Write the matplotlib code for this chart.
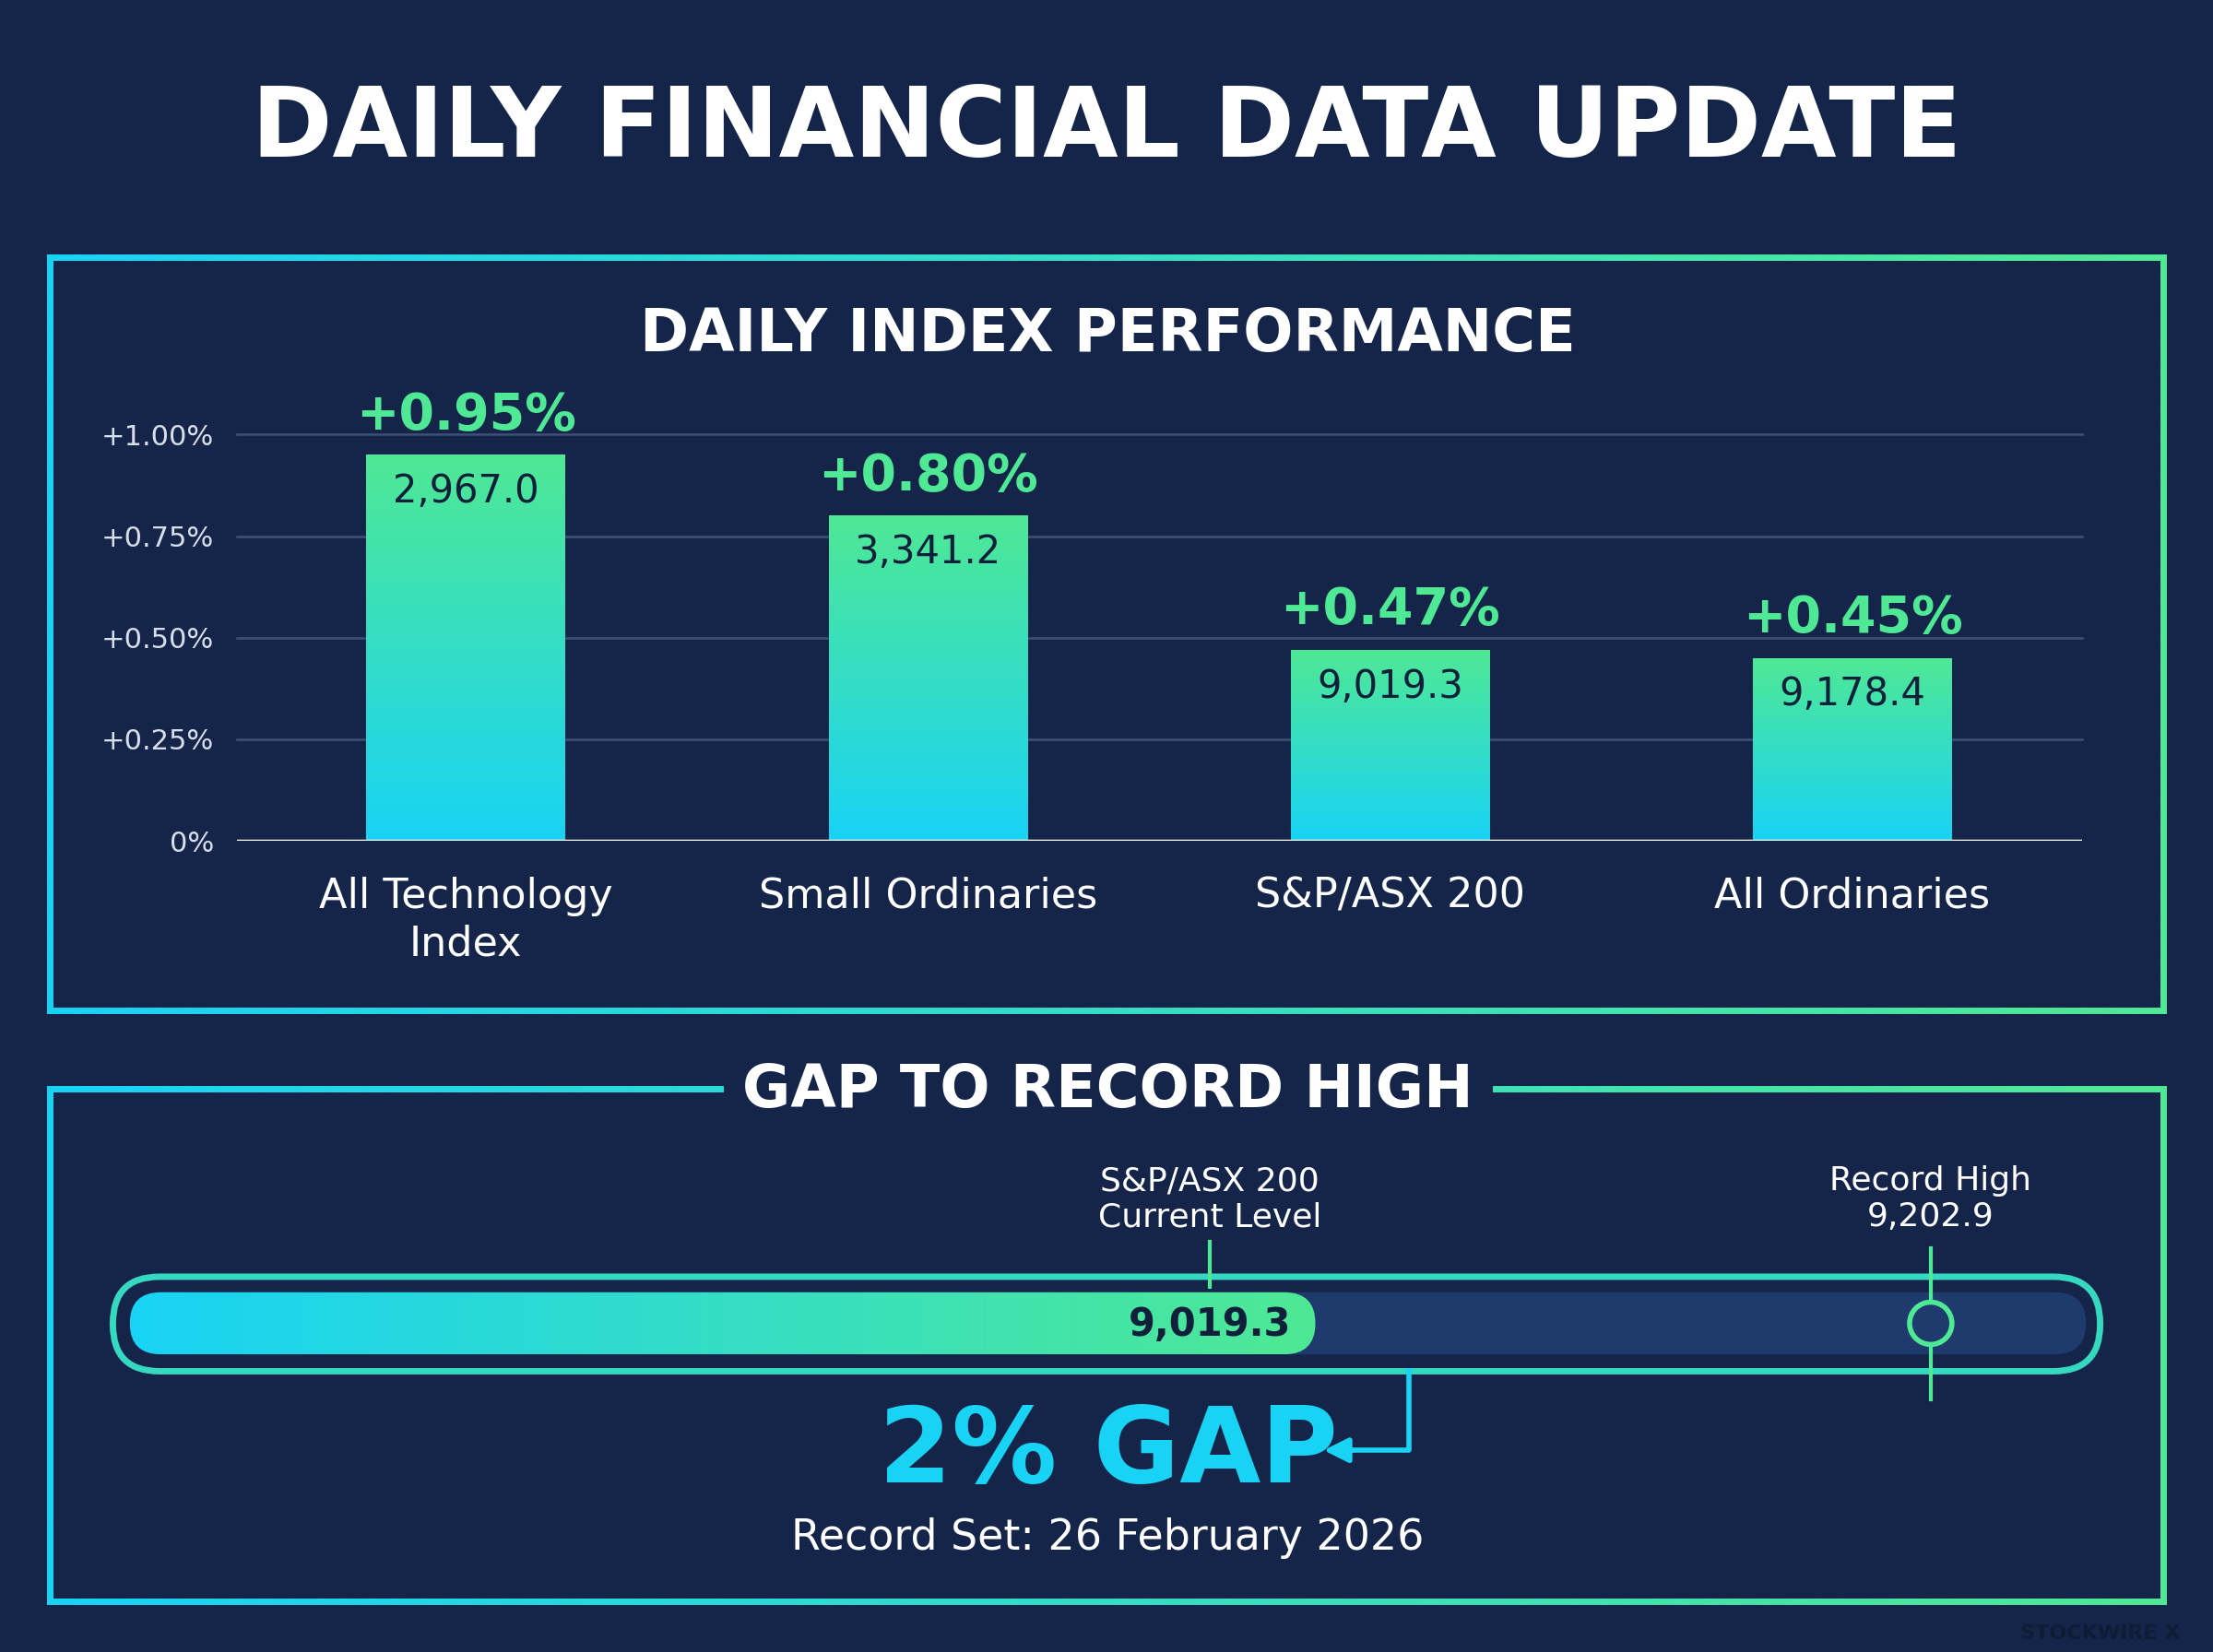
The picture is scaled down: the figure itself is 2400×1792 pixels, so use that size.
import numpy as np
import matplotlib
matplotlib.use("Agg")
import matplotlib.pyplot as plt
from matplotlib.patches import FancyBboxPatch, Rectangle
from matplotlib.collections import LineCollection
from matplotlib.colors import LinearSegmentedColormap

categories = ["All Technology\nIndex", "Small Ordinaries", "S&P/ASX 200", "All Ordinaries"]
pct_change = [0.95, 0.80, 0.47, 0.45]
levels = ["2,967.0", "3,341.2", "9,019.3", "9,178.4"]
yticks = [0, 0.25, 0.50, 0.75, 1.00]
ytick_labels = ["0%", "+0.25%", "+0.50%", "+0.75%", "+1.00%"]
current_level = 9019.3
record_high = 9202.9
gap_label = "2% GAP"
record_date = "Record Set: 26 February 2026"

BG = "#15254a"
CYAN = "#19d3f5"
GREEN = "#4fe895"
cmap_h = LinearSegmentedColormap.from_list("h", [CYAN, GREEN])
cmap_v = LinearSegmentedColormap.from_list("v", [CYAN, GREEN])

W, H = 1568, 1171
fig = plt.figure(figsize=(24, 17.92), dpi=100, facecolor=BG)
ov = fig.add_axes([0, 0, 1, 1])
ov.set_xlim(0, W); ov.set_ylim(H, 0); ov.axis("off")
ov.set_facecolor(BG)

def grad_line(xs, ys, lw=5):
    pts = []
    for i in range(len(xs) - 1):
        n = 80
        x = np.linspace(xs[i], xs[i + 1], n); y = np.linspace(ys[i], ys[i + 1], n)
        for j in range(n - 1):
            pts.append([(x[j], y[j]), (x[j + 1], y[j + 1])])
    pts = np.array(pts)
    c = cmap_h((pts[:, :, 0].mean(axis=1) - 35) / (1533 - 35))
    ov.add_collection(LineCollection(pts, colors=c, linewidths=lw, capstyle="projecting"))

ov.text(W / 2, 92, "DAILY FINANCIAL DATA UPDATE", color="white", fontsize=76,
        fontweight="bold", ha="center", va="center")
# panel 1 border
grad_line([35, 1533, 1533, 35, 35], [182, 182, 716, 716, 182])
ov.text(785, 237, "DAILY INDEX PERFORMANCE", color="white", fontsize=46,
        fontweight="bold", ha="center", va="center")
# panel 2 border with gap
grad_line([510, 35, 35, 1533, 1533, 1060], [772, 772, 1135, 1135, 772, 772])
ov.text(785, 773, "GAP TO RECORD HIGH", color="white", fontsize=46,
        fontweight="bold", ha="center", va="center")

# bar chart
ax = fig.add_axes([168 / W, 1 - 596 / H, 1307 / W, 288 / H])
ax.set_facecolor("none")
ax.set_xlim(-0.495, 3.496); ax.set_ylim(0, 1.0)
for s in ax.spines.values(): s.set_visible(False)
for t in yticks[1:]:
    ax.axhline(t, color="#3f5275", lw=1.8, zorder=0, clip_on=False)
ax.axhline(0, color="white", lw=2.5, zorder=3)
ax.set_yticks(yticks)
ax.set_yticklabels(ytick_labels, color="#d8deea", fontsize=22)
ax.tick_params(axis="y", length=0, pad=18)
ax.set_xticks(range(len(categories)))
ax.set_xticklabels(categories, color="white", fontsize=32, linespacing=1.25)
ax.tick_params(axis="x", length=0, pad=28)
grad = np.linspace(0, 1, 256).reshape(-1, 1)
bw = 0.43
for i, v in enumerate(pct_change):
    r = Rectangle((i - bw / 2, 0), bw, v, facecolor="none", edgecolor="none")
    ax.add_patch(r)
    im = ax.imshow(grad, cmap=cmap_v, origin="lower", aspect="auto",
                   extent=(i - bw / 2, i + bw / 2, 0, v), zorder=2)
    im.set_clip_path(r)
    ax.text(i, v + 0.035, f"+{v:.2f}%", color=GREEN, fontsize=40,
            fontweight="bold", ha="center", va="bottom", clip_on=False)
    ax.text(i, v - 0.09, levels[i], color="#10203a", fontsize=30,
            ha="center", va="center")
ax.set_xlim(-0.495, 3.496); ax.set_ylim(0, 1.0)

# progress bar scale: value -> pixel x
fill_left = 92
px_per_unit = (1368 - 932) / (record_high - current_level)
def vx(v):
    return 932 + (v - current_level) * px_per_unit

outer = FancyBboxPatch((80 + 33, 905), 1408 - 66, 67, boxstyle="round,pad=0,rounding_size=33.5",
                       facecolor="none", edgecolor=GREEN, lw=5, mutation_aspect=1)
ov.add_patch(FancyBboxPatch((80, 905), 1408, 67, boxstyle="round,pad=0,rounding_size=33",
                            facecolor="none", edgecolor="#35d9c0", lw=5))
track = FancyBboxPatch((92, 916), 1478 - 92, 44, boxstyle="round,pad=0,rounding_size=22",
                       facecolor="#1f3a6c", edgecolor="none")
ov.add_patch(track)
fx1 = vx(current_level)
fill = FancyBboxPatch((fill_left, 916), fx1 - fill_left, 44, boxstyle="round,pad=0,rounding_size=22",
                      facecolor="none", edgecolor="none")
ov.add_patch(fill)
im2 = ov.imshow(np.linspace(0, 1, 256).reshape(1, -1), cmap=cmap_h, aspect="auto",
                extent=(fill_left, fx1, 960, 916), zorder=3)
im2.set_clip_path(fill)
ov.set_xlim(0, W); ov.set_ylim(H, 0)
ov.text(857, 939, f"{current_level:,.1f}", color="#10203a", fontsize=30,
        fontweight="bold", ha="center", va="center", zorder=5)
ov.plot([857, 857], [880, 912], color=GREEN, lw=3)
ov.text(857, 850, "S&P/ASX 200\nCurrent Level", color="white", fontsize=26,
        ha="center", va="center", linespacing=1.2)
rx = vx(record_high)
ov.plot([rx, rx], [885, 992], color=GREEN, lw=3, zorder=4)
ov.add_patch(plt.Circle((rx, 938), 15, facecolor="#1f3a6c", edgecolor=GREEN, lw=4, zorder=5))
ov.text(rx, 850, f"Record High\n{record_high:,.1f}", color="white", fontsize=26,
        ha="center", va="center", linespacing=1.2)
# arrow
ov.plot([998, 998, 950], [972, 1028, 1028], color=CYAN, lw=4)
ov.annotate("", xy=(936, 1028), xytext=(960, 1028),
            arrowprops=dict(arrowstyle="-|>", color=CYAN, lw=4, mutation_scale=40))
ov.text(785, 1030, gap_label, color=CYAN, fontsize=82, fontweight="bold",
        ha="center", va="center")
ov.text(785, 1090, record_date, color="white", fontsize=33, ha="center", va="center")
ov.text(1545, 1158, "STOCKWIRE X", color="#0f1c36", fontsize=16, fontweight="bold",
        ha="right", va="center")

fig.savefig("out.png", dpi=100, facecolor=BG)
